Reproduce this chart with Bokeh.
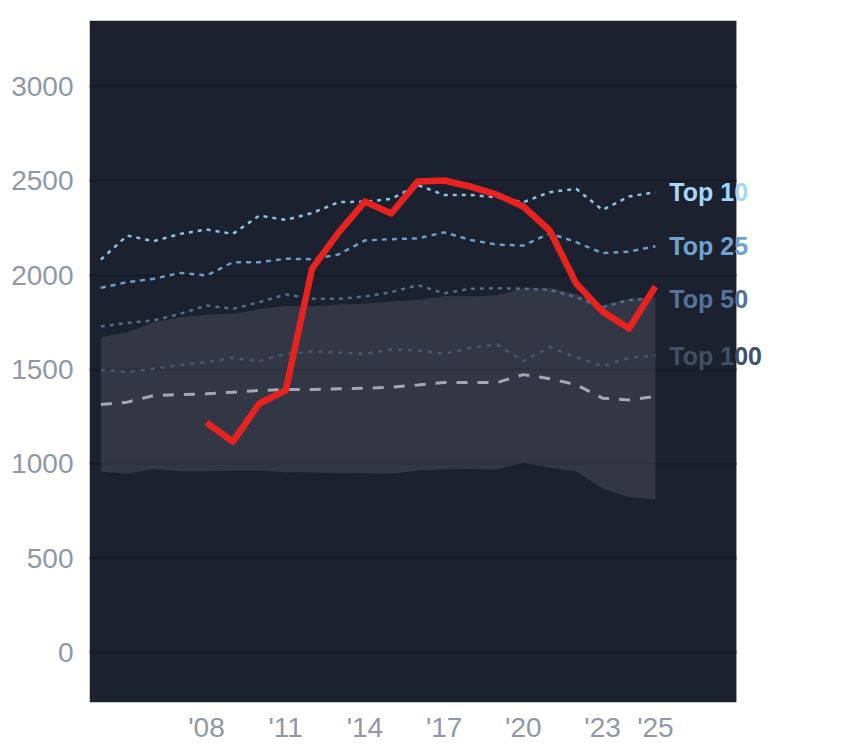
from bokeh.plotting import figure
from bokeh.models import Range1d, FixedTicker, Label, BoxAnnotation
from bokeh.embed import file_html
from bokeh.resources import INLINE

years = list(range(2004, 2026))
top10 = [2083, 2210, 2180, 2219, 2242, 2219, 2316, 2293, 2329, 2387, 2390, 2404, 2478, 2425, 2425, 2413, 2387, 2440, 2458, 2346, 2417, 2440]
top25 = [1933, 1963, 1981, 2012, 1998, 2069, 2069, 2087, 2085, 2110, 2184, 2191, 2195, 2227, 2187, 2162, 2157, 2222, 2175, 2117, 2125, 2153]
top50 = [1728, 1747, 1760, 1795, 1839, 1821, 1857, 1898, 1875, 1875, 1887, 1910, 1947, 1904, 1928, 1931, 1928, 1922, 1883, 1830, 1869, 1875]
top100 = [1498, 1486, 1504, 1525, 1539, 1562, 1544, 1583, 1595, 1590, 1583, 1606, 1601, 1583, 1615, 1632, 1544, 1618, 1565, 1518, 1562, 1574]
median = [1314, 1327, 1362, 1367, 1371, 1380, 1389, 1394, 1394, 1398, 1401, 1406, 1418, 1431, 1431, 1431, 1473, 1451, 1420, 1348, 1339, 1358]
band_low = [959, 947, 973, 961, 961, 965, 965, 956, 954, 951, 950, 947, 965, 972, 973, 970, 1005, 979, 959, 868, 823, 811]
band_high = [1671, 1698, 1751, 1777, 1791, 1795, 1820, 1837, 1834, 1844, 1848, 1860, 1868, 1889, 1889, 1892, 1933, 1933, 1901, 1839, 1875, 1883]
red_years = list(range(2008, 2026))
red_values = [1219, 1118, 1320, 1389, 2035, 2226, 2390, 2327, 2496, 2502, 2470, 2427, 2364, 2237, 1956, 1807, 1717, 1940]

x_ticks = [2008, 2011, 2014, 2017, 2020, 2023, 2025]
x_tick_labels = ["'08", "'11", "'14", "'17", "'20", "'23", "'25"]
y_ticks = [0, 500, 1000, 1500, 2000, 2500, 3000]

tier_names = ["Top 10", "Top 25", "Top 50", "Top 100"]
tier_series = [top10, top25, top50, top100]

X_MIN, X_PANEL_END, X_MAX = 2003.57, 2028.07, 2029.36

p = figure(width=790, height=746, output_backend="svg", toolbar_location=None,
           x_range=Range1d(X_MIN, X_MAX), y_range=Range1d(-265, 3350),
           min_border_left=89, min_border_right=20, min_border_top=20, min_border_bottom=44)
p.background_fill_color = "white"
p.border_fill_color = "white"
p.outline_line_color = None

# dark panel ends before the frame edge so the end labels can spill onto white
p.add_layout(BoxAnnotation(right=X_PANEL_END, fill_color="#1c2130", fill_alpha=1,
                           line_color=None, level="underlay"))

p.xgrid.grid_line_color = None
p.ygrid.grid_line_color = None
p.segment(x0=[X_MIN] * len(y_ticks), x1=[X_PANEL_END] * len(y_ticks), y0=y_ticks, y1=y_ticks,
          line_color="#161a24", line_width=2)

for ax in (p.xaxis[0], p.yaxis[0]):
    ax.axis_line_color = None
    ax.major_tick_line_color = None
    ax.minor_tick_line_color = None
    ax.major_label_text_color = "#8f98a8"
    ax.major_label_text_font = "Liberation Sans"
    ax.major_label_text_font_size = "28px"
    ax.major_label_text_line_height = 1.0

p.xaxis.ticker = FixedTicker(ticks=x_ticks)
p.xaxis.major_label_overrides = {t: l for t, l in zip(x_ticks, x_tick_labels)}
p.xaxis.major_label_standoff = 3
p.yaxis.ticker = FixedTicker(ticks=y_ticks)
p.yaxis.major_label_standoff = 10

p.varea(x=years, y1=band_low, y2=band_high, fill_color="white", fill_alpha=0.1)

line_colors = ["#8cc2ea", "#6d9dca", "#536d8f", "#4a566f"]
line_dashes = ["4 5", "5 5", "4 5", "4 6"]
label_colors = ["#a3d5fd", "#6fa3cf", "#56729a", "#434f66"]

for s, c, d in zip(tier_series, line_colors, line_dashes):
    p.line(years, s, line_color=c, line_width=2.5, line_dash=d)

p.line(years, median, line_color="#a3a8b3", line_width=3, line_dash="11 10")

p.line(red_years, red_values, line_color="#e8231f", line_width=6.5, line_join="round")

for name, s, c in zip(tier_names, tier_series, label_colors):
    p.add_layout(Label(x=years[-1], y=s[-1], text=name, x_offset=14,
                       text_color=c, text_font="Liberation Sans", text_font_style="bold",
                       text_font_size="25px", text_baseline="middle"))

open("out.html", "w").write(file_html(p, INLINE))
